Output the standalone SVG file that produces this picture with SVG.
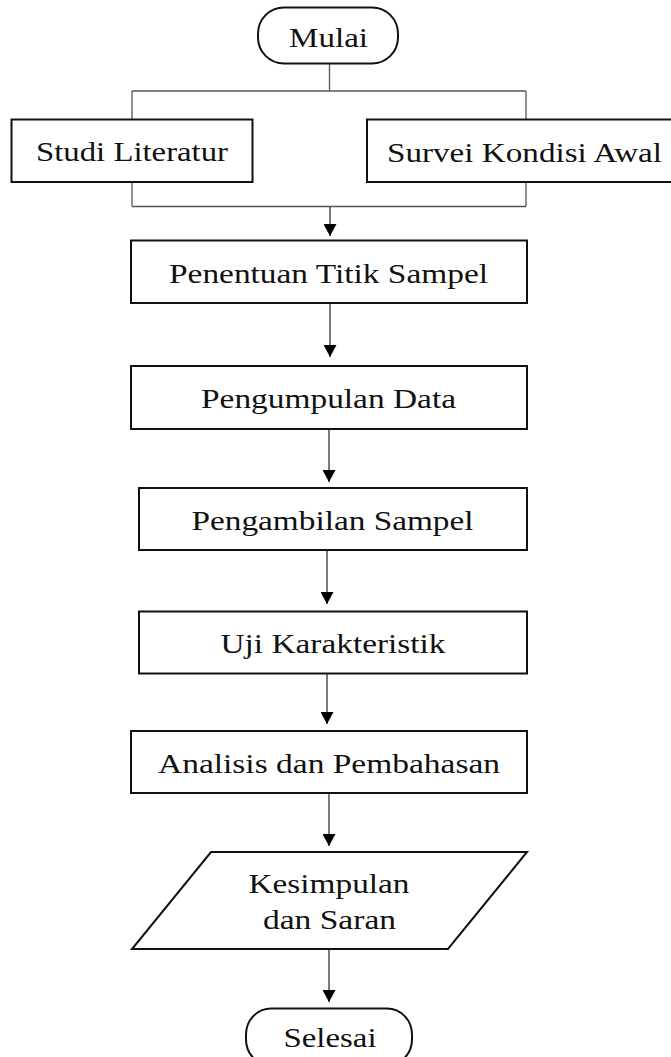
<svg xmlns="http://www.w3.org/2000/svg" width="671" height="1057" viewBox="0 0 671 1057">
<defs>
<marker id="ah" viewBox="0 0 12 13" refX="12" refY="6.5" markerWidth="12" markerHeight="13" markerUnits="userSpaceOnUse" orient="auto">
<path d="M0,0 L12,6.5 L0,13 z" fill="#000"/>
</marker>
</defs>
<style>
.box{fill:#fff;stroke:#111;stroke-width:2}
.ln{fill:none;stroke:#333;stroke-width:1.3}
.br{fill:none;stroke:#555;stroke-width:1.3}
text{font-family:"Liberation Serif","Times New Roman",serif;font-size:28px;fill:#111;text-anchor:middle}
</style>
<rect width="671" height="1057" fill="#fff"/>
<g id="connectors">
<path class="br" d="M329.5,64 V91 M132,91 H526 M132,91 V119 M526,91 V119"/>
<path class="br" d="M132,182 V206.5 M526,182 V206.5 M132,206.5 H526"/>
<line class="ln" x1="330" y1="206.5" x2="330" y2="236" marker-end="url(#ah)"/>
<line class="ln" x1="330" y1="303" x2="330" y2="357" marker-end="url(#ah)"/>
<line class="ln" x1="329" y1="429" x2="329" y2="482" marker-end="url(#ah)"/>
<line class="ln" x1="327" y1="550" x2="327" y2="604" marker-end="url(#ah)"/>
<line class="ln" x1="327" y1="673.5" x2="327" y2="724" marker-end="url(#ah)"/>
<line class="ln" x1="329" y1="793" x2="329" y2="846" marker-end="url(#ah)"/>
<line class="ln" x1="329" y1="949" x2="329" y2="1002" marker-end="url(#ah)"/>
</g>
<g id="mulai">
<rect class="box" x="258" y="7.5" width="140" height="56" rx="26" ry="26"/>
<text x="328.5" y="47" textLength="79" lengthAdjust="spacingAndGlyphs">Mulai</text>
</g>
<g id="studi">
<rect class="box" x="11.5" y="119.5" width="241" height="62.5"/>
<text x="132" y="161" textLength="192" lengthAdjust="spacingAndGlyphs">Studi Literatur</text>
</g>
<g id="survei">
<rect class="box" x="367" y="119.5" width="310" height="62.5"/>
<text x="524.5" y="161.5" textLength="275" lengthAdjust="spacingAndGlyphs">Survei Kondisi Awal</text>
</g>
<g id="penentuan">
<rect class="box" x="131" y="240.5" width="396" height="62.5"/>
<text x="328.5" y="283" textLength="319" lengthAdjust="spacingAndGlyphs">Penentuan Titik Sampel</text>
</g>
<g id="pengumpulan">
<rect class="box" x="131" y="366" width="396" height="63"/>
<text x="328.5" y="408" textLength="255" lengthAdjust="spacingAndGlyphs">Pengumpulan Data</text>
</g>
<g id="pengambilan">
<rect class="box" x="139" y="488" width="388" height="62"/>
<text x="332.5" y="530" textLength="282" lengthAdjust="spacingAndGlyphs">Pengambilan Sampel</text>
</g>
<g id="uji">
<rect class="box" x="139" y="611.5" width="388" height="62"/>
<text x="333" y="653" textLength="225" lengthAdjust="spacingAndGlyphs">Uji Karakteristik</text>
</g>
<g id="analisis">
<rect class="box" x="131" y="731" width="396" height="62"/>
<text x="329" y="772.5" textLength="342" lengthAdjust="spacingAndGlyphs">Analisis dan Pembahasan</text>
</g>
<g id="kesimpulan">
<polygon class="box" points="211,852 527,852 448,949 132,949"/>
<text x="329" y="893" textLength="161" lengthAdjust="spacingAndGlyphs">Kesimpulan</text>
<text x="329.5" y="929" textLength="133" lengthAdjust="spacingAndGlyphs">dan Saran</text>
</g>
<g id="selesai">
<rect class="box" x="246" y="1008.5" width="166" height="57" rx="25" ry="26"/>
<text x="330" y="1046.5" textLength="93" lengthAdjust="spacingAndGlyphs">Selesai</text>
</g>
</svg>
